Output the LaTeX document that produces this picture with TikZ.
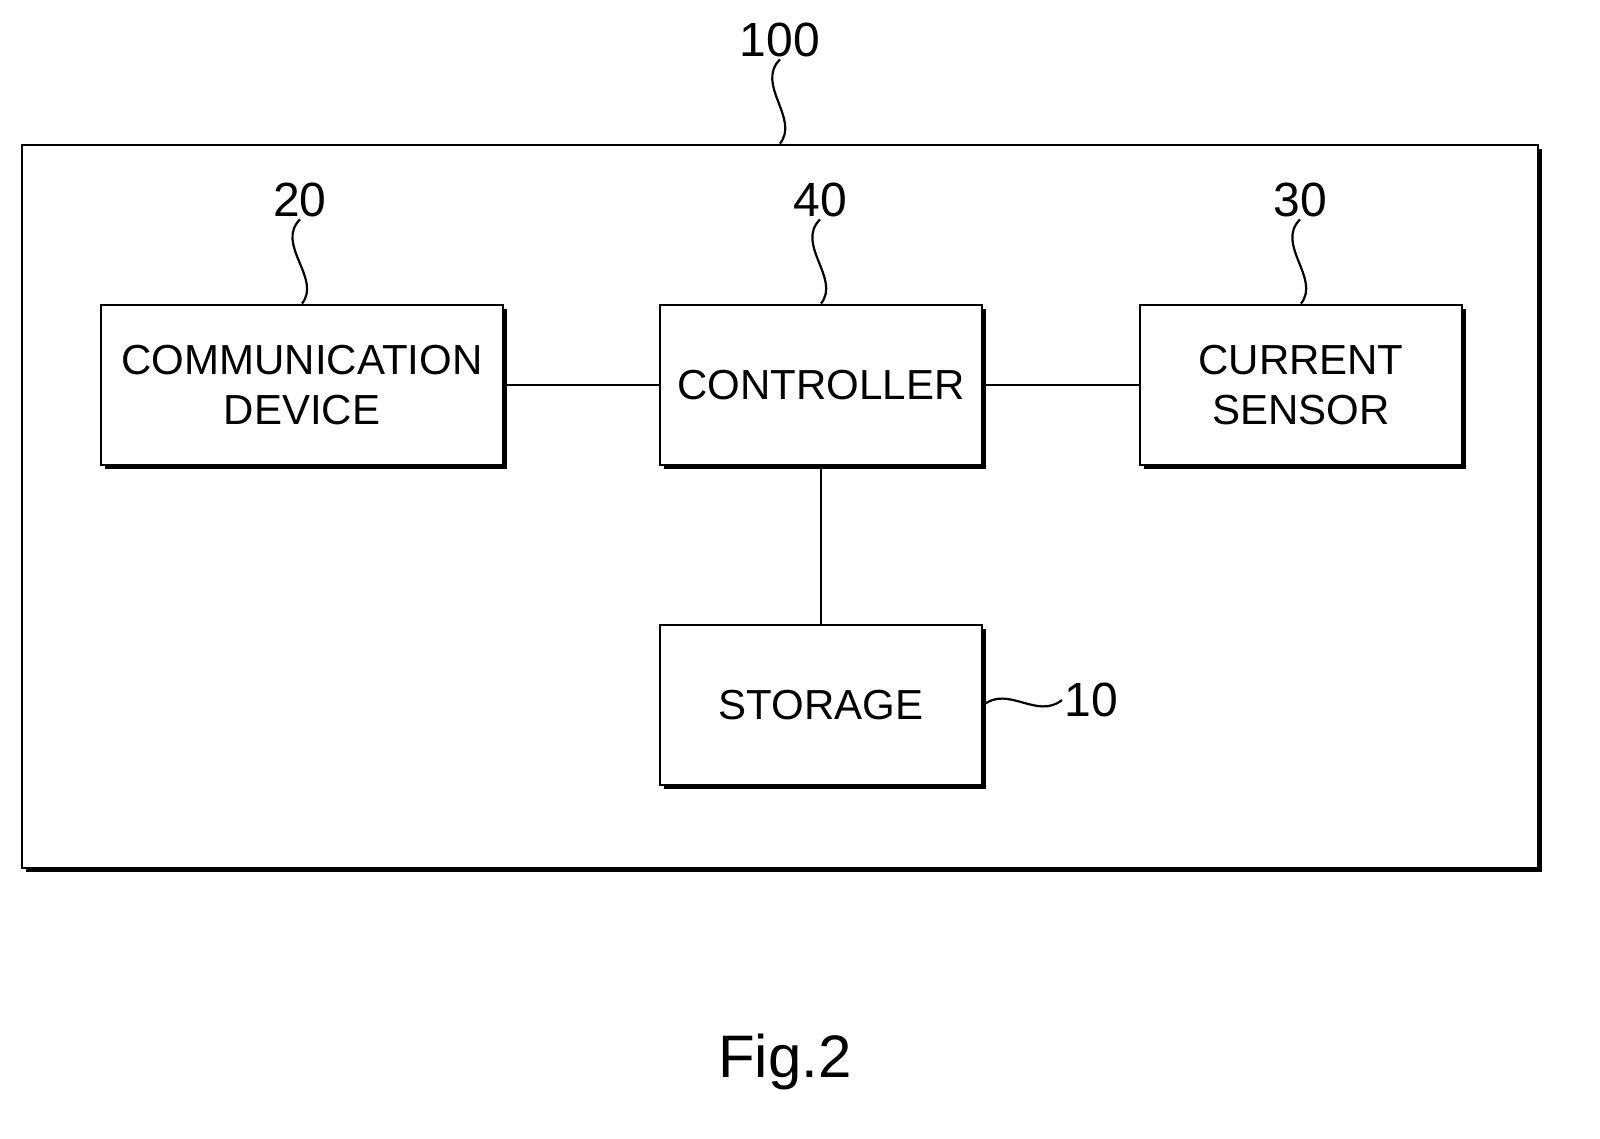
\documentclass[tikz,border=0pt]{standalone}
\usepackage{fontspec}
\setmainfont{Liberation Sans}
\usetikzlibrary{positioning,shadows}
\tikzset{
  block/.style={draw, line width=1.4pt, fill=white, minimum width=161pt, minimum height=80pt,
    align=center, font=\fontsize{21}{25}\selectfont,
    drop shadow={shadow xshift=2.2pt, shadow yshift=-2.2pt, fill=black, opacity=1}},
  num/.style={font=\fontsize{24}{28}\selectfont, inner sep=1pt},
  link/.style={line width=1.1pt}
}
\begin{document}
\begin{tikzpicture}[x=0.5pt, y=-0.5pt]
\useasboundingbox (0,0) rectangle (1600,1139);
% outer frame
\node (frame) [block, minimum width=758pt, minimum height=361.5pt] at (780,506.5) {};
% blocks
\node (comm) [block, minimum width=201pt] at (302,385) {COMMUNICATION\\DEVICE};
\node (ctrl) [block] at (821,385) {CONTROLLER};
\node (sens) [block] at (1301,385) {CURRENT\\SENSOR};
\node (stor) [block] at (821,705) {STORAGE};
% reference numerals
\node (l100) [num] at (780,40) {100};
\node (l20) [num] at (300,200) {20};
\node (l40) [num] at (820,200) {40};
\node (l30) [num] at (1300,200) {30};
\node (l10) [num, anchor=west] at (1062,700) {10};
\node (fig) [font=\fontsize{30}{34}\selectfont] at (785,1062) {Fig.2};
% leaders
\draw [link] (l100.south) .. controls +(-25,25) and +(20,-25) .. (frame.north);
\draw [link] (l20.south) .. controls +(-25,25) and +(20,-25) .. (comm.north);
\draw [link] (l40.south) .. controls +(-25,25) and +(20,-25) .. (ctrl.north);
\draw [link] (l30.south) .. controls +(-25,25) and +(20,-25) .. (sens.north);
\draw [link] (stor.east) .. controls +(25,-20) and +(-25,20) .. (l10.west);
% connections
\draw [link] (comm) -- (ctrl);
\draw [link] (ctrl) -- (sens);
\draw [link] (ctrl) -- (stor);
\end{tikzpicture}
\end{document}
